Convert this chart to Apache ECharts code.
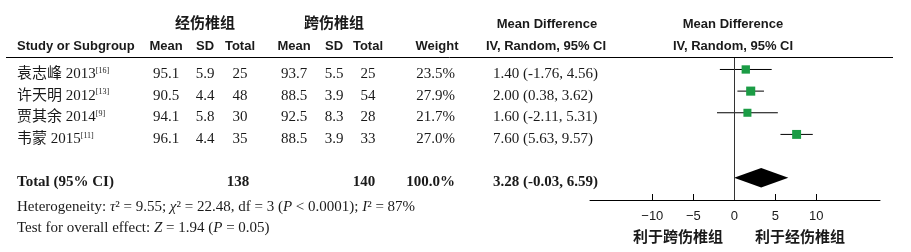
<!DOCTYPE html>
<html><head><meta charset="utf-8">
<script src="https://cdn.jsdelivr.net/npm/echarts@6/dist/echarts.min.js"></script>
<style>html,body{margin:0;padding:0;background:#fff}#c{width:911px;height:252px}</style>
</head><body><div id="c"></div>
<script>
// ---- data ----
const studies = ['袁志峰 2013', '许天明 2012', '贾其余 2014', '韦蒙 2015'];
const refs = ['[16]', '[13]', '[9]', '[11]'];
const expMean = [95.1, 90.5, 94.1, 96.1];
const expSD = [5.9, 4.4, 5.8, 4.4];
const expN = [25, 48, 30, 35];
const ctlMean = [93.7, 88.5, 92.5, 88.5];
const ctlSD = [5.5, 3.9, 8.3, 3.9];
const ctlN = [25, 54, 28, 33];
const weights = [23.5, 27.9, 21.7, 27.0];
const md = [1.40, 2.00, 1.60, 7.60];
const ciLo = [-1.76, 0.38, -2.11, 5.63];
const ciHi = [4.56, 3.62, 5.31, 9.57];
const totalN = [138, 140];
const totalWeight = [100.0];
const totalMD = [3.28, -0.03, 6.59];
const xTicks = [-10, -5, 0, 5, 10];
const groupNames = ['经伤椎组', '跨伤椎组'];
const favourLabels = ['利于跨伤椎组', '利于经伤椎组'];

const SERIF = "'Liberation Serif', 'Times New Roman', 'Noto Sans CJK SC', serif";
const SANS = "'Liberation Sans', Arial, 'Noto Sans CJK SC', sans-serif";
const TXT = '#1a1a1a';

const chart = echarts.init(document.getElementById('c'), null, {renderer: 'canvas'});
const totalRow = studies.length + 1;

const studyData = md.map((m, i) => [m, i, ciLo[i], ciHi[i], weights[i]]);

const option = {
  animation: false,
  backgroundColor: '#fff',
  grid: {left: 590, right: 31, top: 58, bottom: 52},
  xAxis: {
    type: 'value', min: -17.6, max: 17.77, position: 'bottom',
    axisLine: {show: true, onZero: false, lineStyle: {color: '#000', width: 1}},
    axisTick: {show: true, inside: true, length: 6, customValues: xTicks, lineStyle: {color: '#000'}},
    axisLabel: {customValues: xTicks, margin: 10, color: TXT, fontFamily: SANS, fontSize: 13,
      formatter: v => (v < 0 ? '\u2212' + Math.abs(v) : String(v))},
    splitLine: {show: false}
  },
  yAxis: {type: 'value', inverse: true, min: -0.53, max: 6.03, show: false},
  series: [
    {
      type: 'custom', data: studyData, z: 3,
      encode: {x: [0, 2, 3], y: 1},
      renderItem: (params, api) => {
        const y = api.value(1);
        const p0 = api.coord([api.value(2), y]);
        const p1 = api.coord([api.value(3), y]);
        const c = api.coord([api.value(0), y]);
        const s = 1.72 * Math.sqrt(api.value(4));
        return {type: 'group', children: [
          {type: 'line', shape: {x1: p0[0], y1: p0[1], x2: p1[0], y2: p1[1]}, style: {stroke: '#000', lineWidth: 1}},
          {type: 'rect', shape: {x: c[0] - s / 2, y: c[1] - s / 2, width: s, height: s}, style: {fill: '#1b9c45'}}
        ]};
      }
    },
    {
      type: 'custom', data: [[totalMD[0], totalRow, totalMD[1], totalMD[2]]], z: 4,
      encode: {x: [0, 2, 3], y: 1},
      renderItem: (params, api) => {
        const y = api.value(1);
        const l = api.coord([api.value(2), y]);
        const r = api.coord([api.value(3), y]);
        const c = api.coord([api.value(0), y]);
        const h = 9.7;
        return {type: 'polygon', shape: {points: [[l[0], l[1]], [c[0], c[1] - h], [r[0], r[1]], [c[0], c[1] + h]]},
          style: {fill: '#000'}};
      },
      markLine: {
        silent: true, symbol: ['none', 'none'], label: {show: false},
        lineStyle: {color: '#333', width: 1, type: 'solid'},
        data: [{xAxis: 0}]
      }
    }
  ]
};
chart.setOption(option);

// ---- table text, rows aligned to the y axis ----
const g = [];
function txt(text, x, y, o) {
  o = o || {};
  g.push({type: 'text', x: x, y: y, z: 10, silent: true, style: Object.assign({
    text: text, fill: TXT, font: (o.weight || 'normal') + ' ' + (o.size || 15) + 'px ' + (o.family || SERIF),
    align: o.align || 'left', verticalAlign: 'middle'}, o.extra || {})});
}
const HB = {weight: 'bold', size: 13, family: SANS, align: 'center'};
// headers
txt(groupNames[0], 205, 24, {weight: 'bold', size: 15, family: SANS, align: 'center'});
txt(groupNames[1], 334, 24, {weight: 'bold', size: 15, family: SANS, align: 'center'});
txt('Study or Subgroup', 17, 46, Object.assign({}, HB, {align: 'left'}));
const colX = [166, 205, 240, 294, 334, 368];
['Mean', 'SD', 'Total', 'Mean', 'SD', 'Total'].forEach((h, i) => txt(h, colX[i], 46, HB));
txt('Weight', 437, 46, HB);
txt('Mean Difference', 547, 24, HB);
txt('IV, Random, 95% CI', 546, 46, HB);
txt('Mean Difference', 733, 24, HB);
txt('IV, Random, 95% CI', 733, 46, HB);
g.push({type: 'line', z: 10, silent: true, shape: {x1: 6, y1: 57.5, x2: 893, y2: 57.5}, style: {stroke: '#000', lineWidth: 1}});

const fmt = v => v.toFixed(2);
studies.forEach((s, i) => {
  const y = chart.convertToPixel({yAxisIndex: 0}, i) + 4.5;
  g.push({type: 'text', x: 17, y: y, z: 10, silent: true, style: {
    text: '{a|' + s + '}{s|' + refs[i] + '}', verticalAlign: 'middle', align: 'left',
    rich: {a: {fontSize: 15, fontFamily: SERIF, fill: TXT, color: TXT, verticalAlign: 'bottom'},
           s: {fontSize: 8, fontFamily: SERIF, fill: TXT, color: TXT, verticalAlign: 'top'}}}});
  const vals = [expMean[i].toFixed(1), expSD[i].toFixed(1), String(expN[i]), ctlMean[i].toFixed(1), ctlSD[i].toFixed(1), String(ctlN[i])];
  vals.forEach((v, k) => txt(v, colX[k], y, {align: 'center'}));
  txt(weights[i].toFixed(1) + '%', 455, y, {align: 'right'});
  txt(fmt(md[i]) + ' (' + fmt(ciLo[i]) + ', ' + fmt(ciHi[i]) + ')', 493, y);
});
const ty = chart.convertToPixel({yAxisIndex: 0}, totalRow) + 4;
const TB = {weight: 'bold'};
txt('Total (95% CI)', 17, ty, TB);
txt(String(totalN[0]), 238, ty, Object.assign({align: 'center'}, TB));
txt(String(totalN[1]), 364, ty, Object.assign({align: 'center'}, TB));
txt(totalWeight[0].toFixed(1) + '%', 455, ty, Object.assign({align: 'right'}, TB));
txt(fmt(totalMD[0]) + ' (' + fmt(totalMD[1]) + ', ' + fmt(totalMD[2]) + ')', 493, ty, TB);

const richI = {i: {fontStyle: 'italic', fontSize: 15, fontFamily: SERIF, fill: TXT, color: TXT}};
g.push({type: 'text', x: 17, y: 207, z: 10, silent: true, style: {
  text: 'Heterogeneity: {i|τ}² = 9.55; {i|χ}² = 22.48, df = 3 ({i|P} < 0.0001); {i|I}² = 87%',
  font: 'normal 15px ' + SERIF, fill: TXT, verticalAlign: 'middle', rich: richI}});
g.push({type: 'text', x: 17, y: 228, z: 10, silent: true, style: {
  text: 'Test for overall effect: {i|Z} = 1.94 ({i|P} = 0.05)',
  font: 'normal 15px ' + SERIF, fill: TXT, verticalAlign: 'middle', rich: richI}});

txt(favourLabels[0], 678, 238, {weight: 'bold', size: 15, family: SANS, align: 'center'});
txt(favourLabels[1], 800, 238, {weight: 'bold', size: 15, family: SANS, align: 'center'});

chart.setOption({graphic: g});
</script></body></html>
